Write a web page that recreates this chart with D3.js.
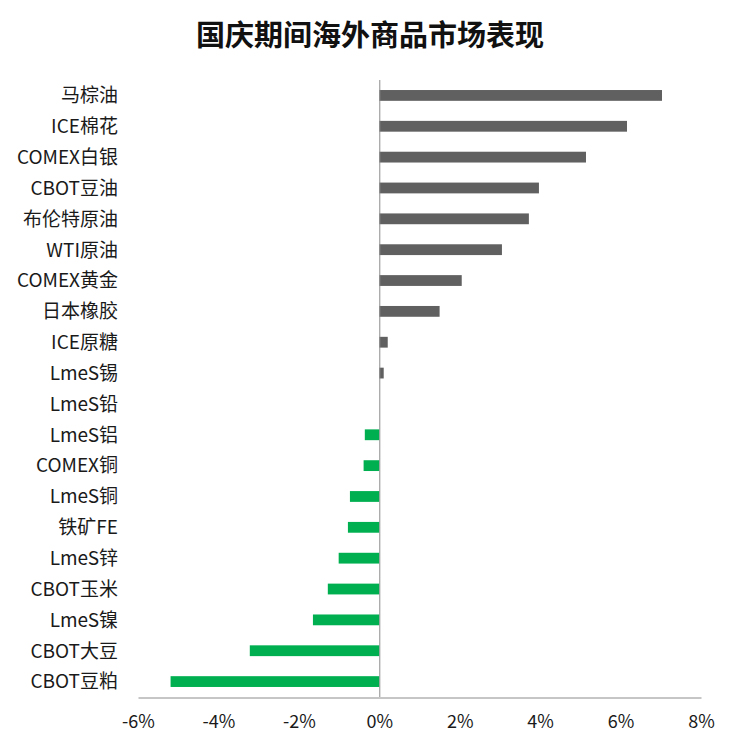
<!DOCTYPE html>
<html>
<head>
<meta charset="utf-8">
<script src="https://cdn.jsdelivr.net/npm/d3@7"></script>
<style>
	body { margin: 0; background: #fff; }
	svg { display: block; }
</style>
</head>
<body>
<div id="chart"></div>
<script>
// categories, top to bottom
var categories = ["马棕油", "ICE棉花", "COMEX白银", "CBOT豆油", "布伦特原油", "WTI原油", "COMEX黄金", "日本橡胶", "ICE原糖", "LmeS锡",
	"LmeS铅", "LmeS铝", "COMEX铜", "LmeS铜", "铁矿FE", "LmeS锌", "CBOT玉米", "LmeS镍", "CBOT大豆", "CBOT豆粕"];
// change during the holiday, in %
var values = [7.03, 6.16, 5.14, 3.97, 3.72, 3.05, 2.05, 1.5, 0.21, 0.11,
	0, -0.36, -0.39, -0.73, -0.78, -1.01, -1.28, -1.65, -3.22, -5.19];
var xTicks = [-6, -4, -2, 0, 2, 4, 6, 8];

var W = 736, H = 749;
var margin = {top: 80, right: 35, bottom: 52, left: 138};

var svg = d3.select("#chart").append("svg")
	.attr("width", W)
	.attr("height", H);

var x = d3.scaleLinear().domain([-6, 8]).range([margin.left, W - margin.right]);
var y = d3.scaleBand().domain(categories).range([margin.top, H - margin.bottom]).paddingInner(0.65).paddingOuter(0.325);

// title
svg.append("text")
	.attr("x", W / 2 + 2)
	.attr("y", 46)
	.attr("text-anchor", "middle")
	.style("font-family", "'Noto Sans CJK SC', sans-serif")
	.style("font-weight", "bold")
	.style("font-size", "29px")
	.style("fill", "#111")
	.text("国庆期间海外商品市场表现");

// bars
svg.append("g").selectAll("rect")
	.data(values)
	.enter().append("rect")
		.attr("x", function(d) { return x(Math.min(0, d)); })
		.attr("y", function(d, i) { return y(categories[i]); })
		.attr("width", function(d) { return Math.abs(x(d) - x(0)); })
		.attr("height", y.bandwidth())
		.attr("fill", function(d) { return d >= 0 ? "#606060" : "#00b050"; });

// zero line
svg.append("line")
	.attr("x1", x(0) + 0.5).attr("x2", x(0) + 0.5)
	.attr("y1", margin.top).attr("y2", H - margin.bottom)
	.attr("stroke", "#8c8c8c").attr("stroke-width", 1);

// category labels
svg.append("g").selectAll("text")
	.data(categories)
	.enter().append("text")
		.attr("x", 118)
		.attr("y", function(d) { return y(d) + y.bandwidth() / 2; })
		.attr("dy", "0.36em")
		.attr("text-anchor", "end")
		.style("font-family", "'Noto Sans CJK SC', sans-serif")
		.style("font-size", "19px")
		.style("fill", "#1a1a1a")
		.text(function(d) { return d; });

// x axis
var xAxis = d3.axisBottom(x)
	.tickValues(xTicks)
	.tickSize(0)
	.tickPadding(18)
	.tickFormat(function(d) { return d + "%"; });

var gx = svg.append("g")
	.attr("transform", "translate(0," + (H - margin.bottom + 0.5) + ")")
	.call(xAxis);
gx.select(".domain").attr("stroke", "#8c8c8c");
gx.selectAll("text")
	.style("font-family", "'Noto Sans CJK SC', sans-serif")
	.style("font-size", "18px")
	.style("fill", "#1a1a1a");
</script>
</body>
</html>
